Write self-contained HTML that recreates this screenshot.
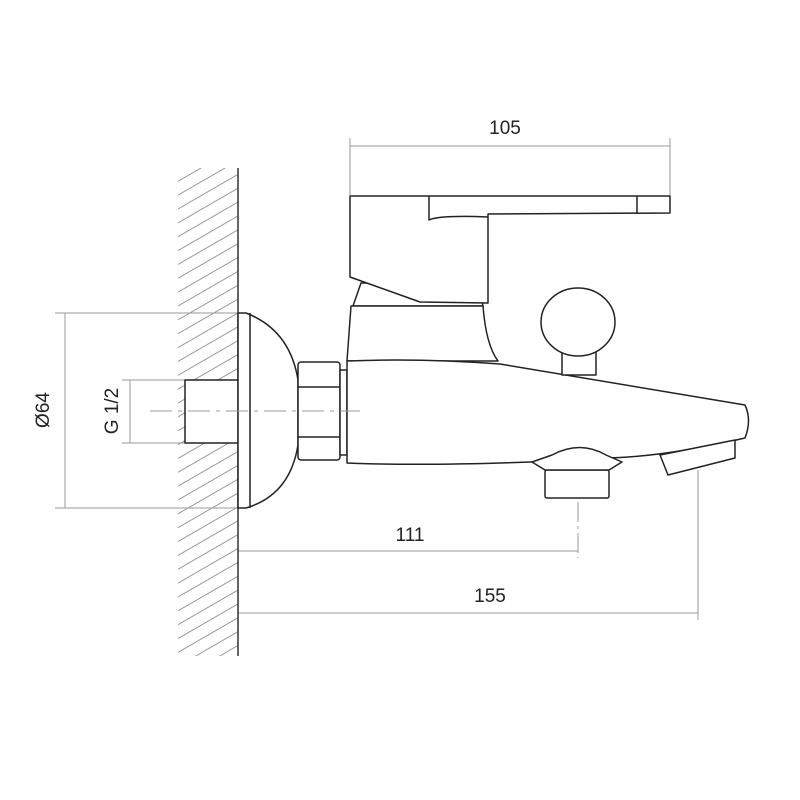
<!DOCTYPE html>
<html><head><style>body{margin:0;background:#fff}svg{display:block}</style></head><body>
<svg width="800" height="800" viewBox="0 0 800 800" xmlns="http://www.w3.org/2000/svg">
<defs><pattern id="h" width="12" height="12" patternUnits="userSpaceOnUse" patternTransform="rotate(-30)"><line x1="0" y1="6" x2="12" y2="6" stroke="#999" stroke-width="1"/></pattern></defs>
<rect x="178" y="168" width="60" height="488" fill="url(#h)"/>
<g stroke="#999" stroke-width="1" fill="none">
<line x1="350" y1="138" x2="350" y2="195"/><line x1="670" y1="138" x2="670" y2="195"/><line x1="350" y1="146" x2="670" y2="146"/>
<line x1="55" y1="313" x2="245" y2="313"/><line x1="55" y1="508" x2="245" y2="508"/><line x1="65" y1="313" x2="65" y2="508"/>
<line x1="122" y1="380" x2="190" y2="380"/><line x1="122" y1="443" x2="190" y2="443"/><line x1="130" y1="380" x2="130" y2="443"/>
<line x1="238" y1="551" x2="578" y2="551"/><line x1="578" y1="440" x2="578" y2="558" stroke-dasharray="20,4,3,4"/>
<line x1="238" y1="613" x2="698" y2="613"/><line x1="698" y1="470" x2="698" y2="620"/>
</g>
<line x1="238" y1="168" x2="238" y2="656" stroke="#333" stroke-width="1.5"/>
<g stroke="#222" stroke-width="1.5" fill="#fff" stroke-linejoin="round">
<rect x="185" y="380" width="53" height="63"/>
<path d="M238 313 L246 313 Q290 330 298 380 L298 445 Q290 495 246 508 L238 508 Z"/>
<line x1="250" y1="313" x2="250" y2="508"/>
<rect x="298" y="362" width="42" height="98" rx="3"/>
<line x1="298" y1="387" x2="340" y2="387"/><line x1="298" y1="437" x2="340" y2="437"/>
<rect x="340" y="370" width="7" height="85"/>
<path d="M361 283 L353 306 L483 306 L478 283 Z"/>
<path d="M347 361 L351 306 L483 306 Q486 345 498 361 Z"/>
<path d="M347 361 Q420 358 500 364 L745 405 Q752 420 745 438 Q660 458 600 458 L530 462 Q420 466 347 463 Z"/>
<rect x="562" y="345" width="34" height="30"/>
<ellipse cx="578" cy="322" rx="37" ry="34"/>
<path d="M350 196 L670 196 L670 213 L488 214 L488 303 L420 302 L350 277 Z"/>
<path d="M429 196 L429 220 Q440 215 488 217" fill="none"/>
<line x1="637" y1="196" x2="637" y2="213"/>
<rect x="545" y="470" width="64" height="28" rx="2"/>
<path d="M532 462 L545 470 L609 470 L622 462 L606 455 Q580 440 552 455 Z"/>
<path d="M660 455 L735 440 L735 458 L668 475 Z"/>
</g>
<line x1="150" y1="411" x2="360" y2="411" stroke="#999" stroke-width="1" stroke-dasharray="22,6,4,6"/>
<g font-family="Liberation Sans, sans-serif" font-size="19" fill="#222" text-anchor="middle">
<text x="505" y="134">105</text>
<text x="410" y="541">111</text>
<text x="490" y="602">155</text>
<text transform="translate(49 410) rotate(-90)">Ø64</text>
<text transform="translate(118 411) rotate(-90)">G 1/2</text>
</g>
</svg>
</body></html>
